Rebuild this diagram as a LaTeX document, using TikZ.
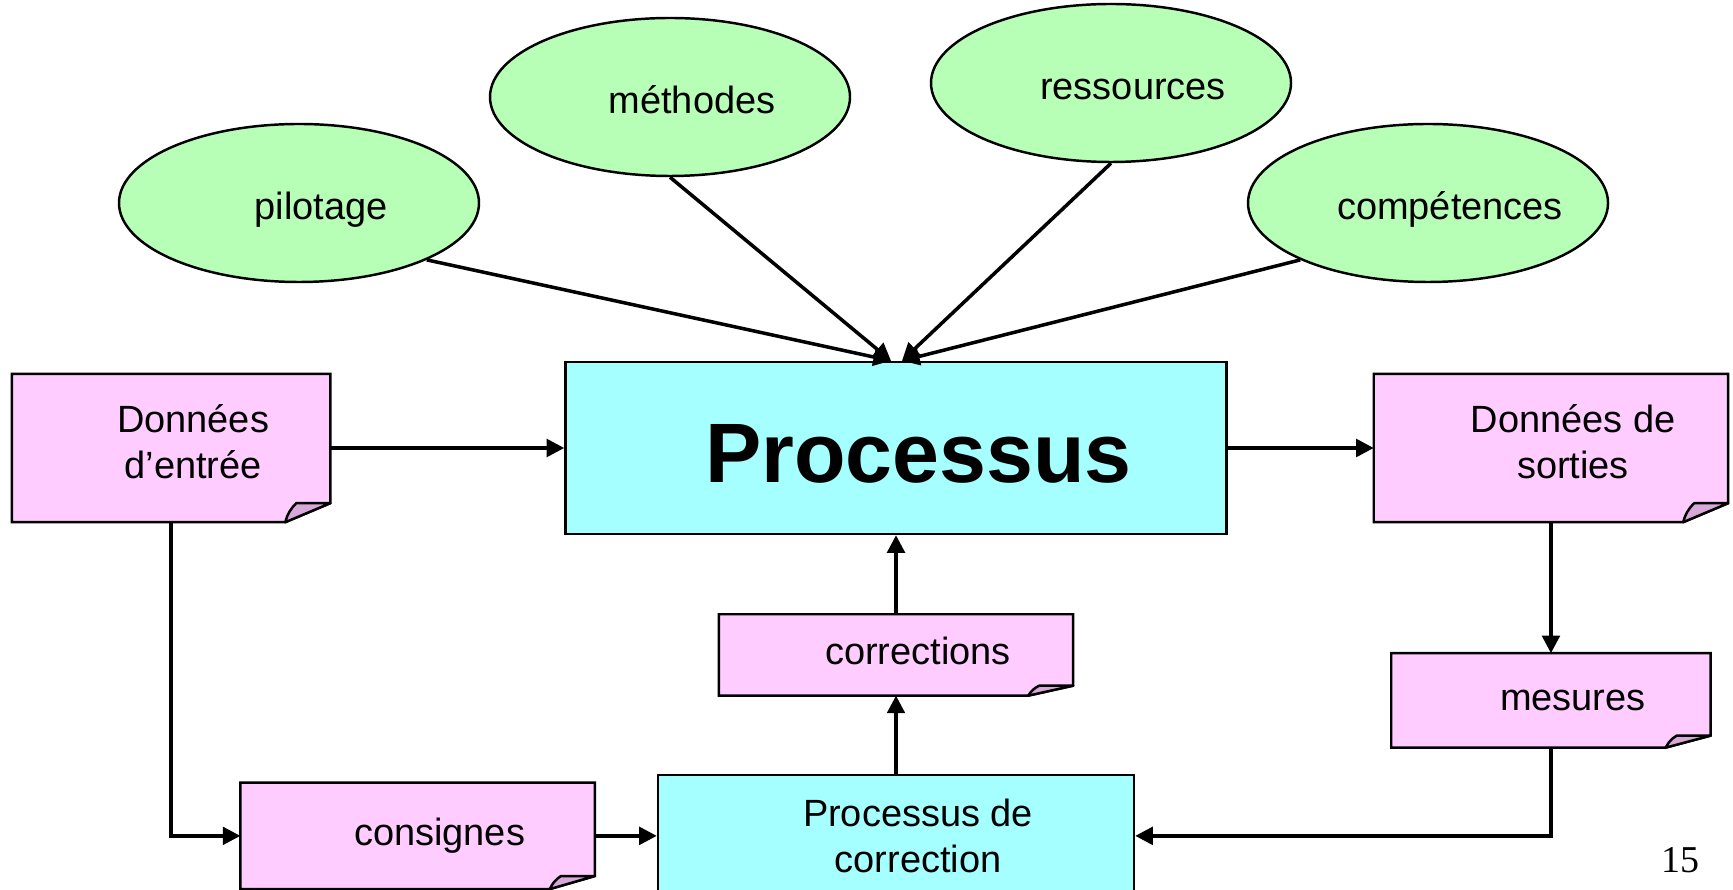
\documentclass[tikz,border=0pt]{standalone}
\usepackage{fontspec}
\setmainfont{Liberation Sans}
\newfontfamily\numfont{Liberation Serif}
\usetikzlibrary{arrows.meta,positioning,shapes.geometric}

\definecolor{ellgreen}{RGB}{183,255,183}
\definecolor{procblue}{RGB}{166,255,255}
\definecolor{notepink}{RGB}{255,204,255}
\definecolor{foldmauve}{RGB}{216,168,216}

\newcommand\boxfont{\fontsize{10.8}{13}\selectfont}
\newcommand\foldw{0.45cm}

\begin{document}
\begin{tikzpicture}[
            every node/.style={inner sep=0pt, align=center},
            box line/.style={draw=black, line width=0.7pt},
            ell/.style={ellipse, box line, fill=ellgreen, minimum width=3.6cm, minimum height=1.58cm,
                inner xsep=-4mm, text height=0.42cm, text depth=0.08cm, font={\boxfont\hspace*{4.4mm}}},
            proc/.style={rectangle, box line, fill=procblue, font={\boxfont\hspace*{4.4mm}}},
            note/.style={rectangle, fill=notepink, font={\boxfont\hspace*{4.4mm}}},
            oneline/.style={text height=0.2cm, text depth=0cm},
            twolines/.style={text height=0.60cm, text depth=0cm},
            arr/.style={-{Triangle[length=5pt,width=5pt]}, line width=1pt}]
            \useasboundingbox (0,0) rectangle (17.33,-8.90);
            \clip (0,0) rectangle (17.33,-8.90);

            % resources around the process
            \node[ell] (pilotage)    at (2.99,-2.03)  {pilotage};
            \node[ell] (methodes)    at (6.70,-0.97)  {méthodes};
            \node[ell] (ressources)  at (11.11,-0.83) {ressources};
            \node[ell] (competences) at (14.28,-2.03) {compétences};

            \node[proc, minimum width=6.61cm, minimum height=1.72cm, text height=0.69cm, text depth=0cm,
                font={\fontsize{24}{28}\selectfont\bfseries\hspace*{4.5mm}}] (processus) at (8.96,-4.48) {Processus};
            \node[note, twolines, minimum width=3.17cm, minimum height=1.47cm] (entree) [left=2.34cm of processus] {Données\\d’entrée};
            \node[note, twolines, minimum width=3.53cm, minimum height=1.47cm] (sorties) [right=1.46cm of processus] {Données de\\sorties};

            % correction loop
            \node[note, oneline, minimum width=3.53cm, minimum height=0.80cm] (corrections) [below=0.79cm of processus] {corrections};
            \node[proc, minimum width=4.76cm, minimum height=1.22cm] (proccorr) [below=0.78cm of corrections] {Processus de\\correction};
            \node[note, oneline, minimum width=3.53cm, minimum height=1.05cm] (consignes) [left=0.62cm of proccorr] {consignes};
            \node[note, oneline, minimum width=3.18cm, minimum height=0.93cm] (mesures) [below=1.31cm of sorties] {mesures};

            \node[font={\numfont\boxfont}] (pagenum) at (16.80,-8.60) {15};

            % folded corners of the notes
            \foreach \n/\h in {entree/0.19cm, sorties/0.19cm, corrections/0.10cm, consignes/0.13cm, mesures/0.12cm} {
                \fill[white] ([xshift=-\foldw]\n.south east) -- (\n.south east) -- ([yshift=\h]\n.south east) -- cycle;
                \draw[box line] (\n.north west) -- (\n.north east) -- ([yshift=\h]\n.south east)
                    -- ([xshift=-\foldw]\n.south east) -- (\n.south west) -- cycle;
                \draw[box line, fill=foldmauve, line join=round] ([xshift=-\foldw]\n.south east)
                    to[bend left=15] ([xshift=-\foldw+1.1mm, yshift=\h]\n.south east)
                    -- ([yshift=\h]\n.south east) -- cycle;
            }

            \draw[arr] (pilotage.-24) -- ([xshift=-0.05cm]processus.north);
            \draw[arr] (methodes.south) -- ([xshift=-0.05cm]processus.north);
            \draw[arr] (ressources.south) -- ([xshift=0.06cm]processus.north);
            \draw[arr] (competences.204) -- ([xshift=0.06cm]processus.north);

            \draw[arr] (entree) -- (processus);
            \draw[arr] (processus) -- (sorties);
            \draw[arr] (sorties.south) -- (mesures.north);
            \draw[arr] (entree.south) |- (consignes.west);
            \draw[arr] (consignes) -- (proccorr);
            \draw[arr] (mesures.south) |- (proccorr.east);
            \draw[arr] (proccorr.north) -- (corrections.south);
            \draw[arr] (corrections.north) -- (processus.south);
\end{tikzpicture}
\end{document}
